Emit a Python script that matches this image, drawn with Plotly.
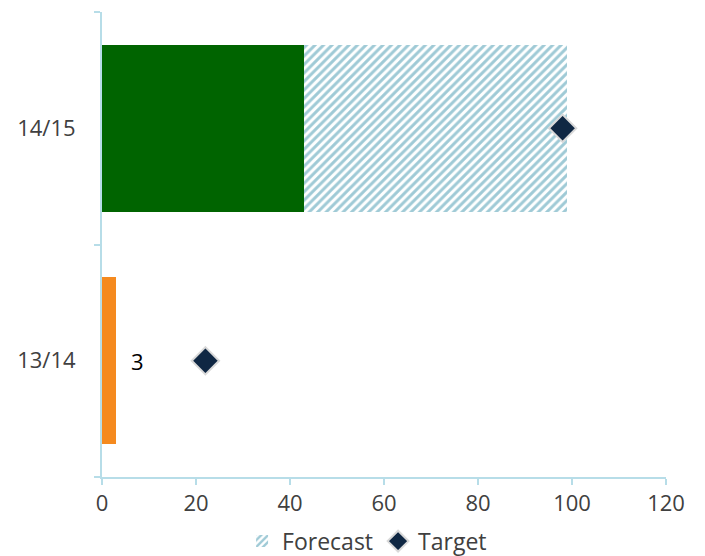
import plotly.graph_objects as go

# Seasons shown on the category axis (bottom to top)
seasons = ["13/14", "14/15"]

# Realised values per season
actual_prev = [3, None]      # 13/14 outcome
actual_curr = [None, 43]     # 14/15 realised so far
forecast_rest = [None, 56]   # remaining 14/15 forecast, stacked on the realised part
targets = [22, 98]           # target per season

x_ticks = [0, 20, 40, 60, 80, 100, 120]

axis_color = "#b7dde8"
text_color = "#404040"
font_family = "Open Sans, Noto Sans, sans-serif"
font_size = 22

fig = go.Figure()

fig.add_trace(go.Bar(
    y=seasons, x=actual_prev, orientation="h",
    marker=dict(color="#f58a1f", line=dict(width=0)),
    width=0.72, showlegend=False, name="13/14",
))
fig.add_trace(go.Bar(
    y=seasons, x=actual_curr, orientation="h",
    marker=dict(color="#006400", line=dict(width=0)),
    width=0.72, showlegend=False, name="Actual",
))
fig.add_trace(go.Bar(
    y=seasons, x=forecast_rest, orientation="h",
    marker=dict(
        color="white",
        line=dict(width=0),
        pattern=dict(shape="/", fgcolor="#3f95ad", bgcolor="white",
                     size=6, solidity=0.5),
    ),
    width=0.72, name="Forecast",
))
fig.add_trace(go.Scatter(
    y=seasons, x=targets, mode="markers", name="Target",
    marker=dict(symbol="diamond", size=21, color="#0f2743",
                line=dict(color="#d9d9d9", width=2)),
))

# Value label next to the 13/14 bar
fig.add_annotation(
    x=actual_prev[0], y=seasons[0], text=str(actual_prev[0]),
    showarrow=False, xanchor="left", xshift=13,
    font=dict(size=22, color="black", family=font_family),
)

fig.update_layout(
    width=705, height=556,
    margin=dict(l=102, r=39, t=12, b=79, autoexpand=False),
    paper_bgcolor="white", plot_bgcolor="white",
    barmode="stack",
    font=dict(family=font_family, size=font_size, color=text_color),
    legend=dict(orientation="h", x=0.47, xanchor="center", y=-0.138,
                yanchor="middle", font=dict(size=23, color=text_color),
                itemwidth=30, traceorder="normal", tracegroupgap=0,
                bgcolor="rgba(0,0,0,0)"),
    xaxis=dict(
        range=[0, 120], tickvals=x_ticks, showgrid=False, zeroline=False,
        showline=True, linecolor=axis_color, linewidth=2,
        ticks="outside", ticklen=6, tickwidth=2, tickcolor=axis_color,
        tickfont=dict(size=font_size, color=text_color),
    ),
    yaxis=dict(
        type="category", categoryorder="array", categoryarray=seasons,
        range=[-0.5, 1.5], showgrid=False, zeroline=False,
        showline=True, linecolor=axis_color, linewidth=2,
        ticks="outside", ticklen=6, tickwidth=2, tickcolor=axis_color,
        tickson="boundaries", ticklabelstandoff=20,
        tickfont=dict(size=font_size, color=text_color),
    ),
)

fig.write_html("out.html")
